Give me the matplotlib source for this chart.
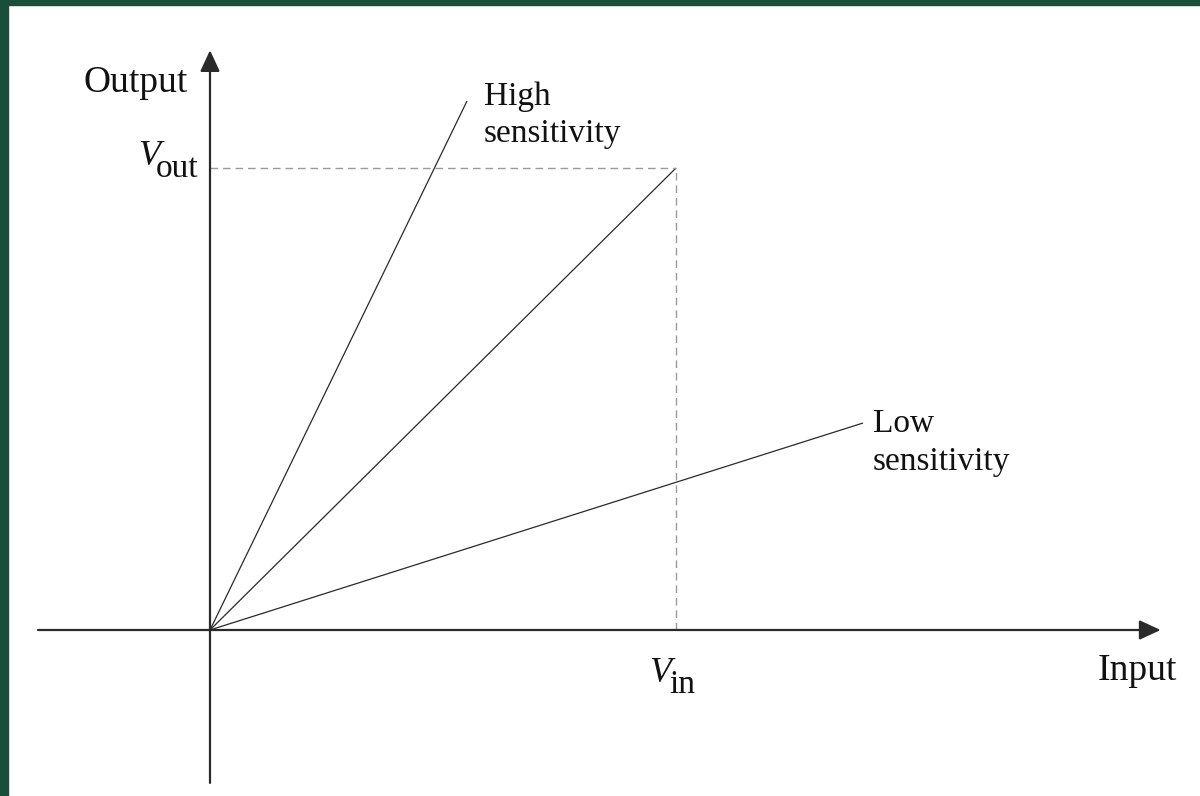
import matplotlib
matplotlib.use("Agg")
import matplotlib.pyplot as plt
from matplotlib.patches import Rectangle

# sensitivity lines, in units where V_in = 1 and V_out = 1
names = ["High", "Mid", "Low"]
end_in = [0.5515, 1.0, 1.4013]
end_out = [1.145, 1.0, 0.448]

v_in = 1.0
v_out = 1.0

# axis extents
x_axis = [-0.369, 2.04]
y_axis = [-0.331, 1.255]

green = "#184e3a"
ink = "#2a2a2a"

plt.rcParams["font.family"] = ["Liberation Serif", "DejaVu Serif"]

fig = plt.figure(figsize=(12, 7.96), dpi=100)
ax = fig.add_axes([0, 0, 1, 1])
ax.set_xlim(-210 / 466, 990 / 466)
ax.set_ylim(-166 / 462, 630 / 462)
ax.axis("off")

# axes with arrow heads
arr = dict(arrowstyle="-|>,head_length=0.65,head_width=0.3", color=ink,
           lw=1.6, shrinkA=0, shrinkB=0, mutation_scale=20)
ax.annotate("", xy=(x_axis[1], 0), xytext=(x_axis[0], 0), arrowprops=arr)
ax.annotate("", xy=(0, y_axis[1]), xytext=(0, y_axis[0]), arrowprops=arr)

# sensitivity lines
for xe, ye in zip(end_in, end_out):
    ax.plot([0, xe], [0, ye], color=ink, lw=0.9, solid_capstyle="butt")

# dashed guides
ax.plot([0, v_in], [v_out, v_out], color="#9a9a9a", lw=1, dashes=(5.5, 3.5))
ax.plot([v_in, v_in], [0, v_out], color="#9a9a9a", lw=1, dashes=(5.5, 3.5))

# labels
big = 27
small = 24
txt = "#111"
ax.text(-0.0472, 1.1645, "Output", fontsize=big, ha="right", va="baseline", color=txt)
ax.text(1.9056, -0.1082, "Input", fontsize=big, ha="left", va="baseline", color=txt)

ax.text(-0.1545, 1.0065, "V", fontsize=26, style="italic", ha="left", va="baseline", color=txt)
ax.text(-0.0258, 0.9805, "out", fontsize=small, ha="right", va="baseline", color=txt)

ax.text(0.9421, -0.1126, "V", fontsize=26, style="italic", ha="left", va="baseline", color=txt)
ax.text(0.9850, -0.1364, "in", fontsize=small, ha="left", va="baseline", color=txt)

ax.text(0.588, 1.1364, "High", fontsize=small, ha="left", va="baseline", color=txt)
ax.text(0.588, 1.0563, "sensitivity", fontsize=small, ha="left", va="baseline", color=txt)
ax.text(1.4227, 0.4286, "Low", fontsize=small, ha="left", va="baseline", color=txt)
ax.text(1.4227, 0.3463, "sensitivity", fontsize=small, ha="left", va="baseline", color=txt)

# green frame on left and top
fig.patches.append(Rectangle((0, 0), 8 / 1200, 1, transform=fig.transFigure,
                             color=green, zorder=10))
fig.patches.append(Rectangle((0, 1 - 5 / 796), 1, 5 / 796, transform=fig.transFigure,
                             color=green, zorder=10))

fig.savefig("out.png", dpi=100)
